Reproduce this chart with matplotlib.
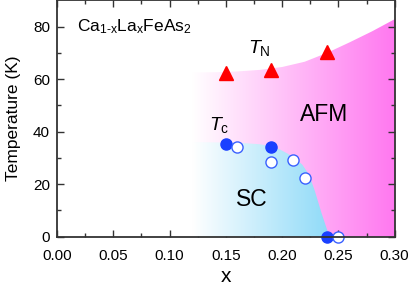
import numpy as np
import matplotlib.pyplot as plt
from matplotlib.patches import Polygon
from matplotlib.colors import LinearSegmentedColormap

plt.rcParams['font.family'] = ['Liberation Sans', 'DejaVu Sans']
plt.rcParams['mathtext.fontset'] = 'custom'
plt.rcParams['mathtext.rm'] = 'Liberation Sans'
plt.rcParams['mathtext.it'] = 'Liberation Sans:italic'

# T_N points (red triangles)
x_tn = [0.15, 0.19, 0.24]
t_tn = [62.3, 63.3, 70.5]
# T_c filled circles
x_tc_fill = [0.15, 0.19, 0.24]
t_tc_fill = [35.2, 34.2, 0.0]
# T_c open circles
x_tc_open = [0.16, 0.19, 0.21, 0.22, 0.25]
t_tc_open = [34.0, 28.3, 29.2, 22.3, 0.0]

# phase boundaries (shading)
x_afm_edge = [0.12, 0.14, 0.16, 0.18, 0.20, 0.22, 0.24, 0.26, 0.28, 0.30]
t_afm_edge = [62.5, 62.6, 62.9, 63.5, 64.6, 66.6, 70.0, 74.0, 78.2, 82.8]
x_sc_edge = [0.12, 0.16, 0.18, 0.19, 0.198, 0.205, 0.212, 0.218, 0.224, 0.229, 0.235, 0.242]
t_sc_edge = [36.0, 35.8, 35.2, 34.4, 33.2, 31.6, 29.6, 27.4, 23.5, 17.5, 9.0, 0.0]

fig = plt.figure(figsize=(4.09, 2.86), dpi=100)
ax = fig.add_axes([0.1394, 0.1724, 0.8256, 0.8266])
ax.set_xlim(0, 0.30)
ax.set_ylim(0, 90)

# AFM gradient
afm_cmap = LinearSegmentedColormap.from_list('afm', ['#ffffff', '#ff78f0'])
grad = np.linspace(0, 1, 256).reshape(1, -1)
im = ax.imshow(grad, cmap=afm_cmap, extent=[0.12, 0.30, 0, 90], aspect='auto', zorder=1)
afm_poly = Polygon(list(zip(x_afm_edge, t_afm_edge)) + [(0.30, 0), (0.12, 0)],
                   closed=True, transform=ax.transData, facecolor='none', edgecolor='none')
ax.add_patch(afm_poly)
im.set_clip_path(afm_poly)

# SC gradient
sc_cmap = LinearSegmentedColormap.from_list('sc', ['#ffffff', '#8edaf8'])
im2 = ax.imshow(grad, cmap=sc_cmap, extent=[0.12, 0.243, 0, 90], aspect='auto', zorder=2)
sc_poly = Polygon(list(zip(x_sc_edge, t_sc_edge)) + [(0.12, 0)],
                  closed=True, transform=ax.transData, facecolor='none', edgecolor='none')
ax.add_patch(sc_poly)
im2.set_clip_path(sc_poly)

ax.plot(x_tn, t_tn, '^', color='#ff0000', markersize=9.5, zorder=5, clip_on=False)
ax.plot(x_tc_fill, t_tc_fill, 'o', color='#1a40ff', markersize=8, zorder=5, clip_on=False)
ax.plot(x_tc_open, t_tc_open, 'o', markerfacecolor='white', markeredgecolor='#3a60ff',
        markeredgewidth=1, markersize=8, zorder=6, clip_on=False)

ax.text(0.018, 80, r'Ca$_{\mathregular{1\text{-}x}}$La$_{\mathregular{x}}$FeAs$_{\mathregular{2}}$',
        fontsize=12.5, va='center', ha='left')
ax.text(0.18, 72, r'$\mathit{T}_{\mathregular{N}}$', fontsize=14, ha='center', va='center')
ax.text(0.144, 42.5, r'$\mathit{T}_{\mathregular{c}}$', fontsize=14, ha='center', va='center')
ax.text(0.237, 46.5, 'AFM', fontsize=16.5, ha='center', va='center')
ax.text(0.173, 14, 'SC', fontsize=16.5, ha='center', va='center')

ax.set_xticks([0.00, 0.05, 0.10, 0.15, 0.20, 0.25, 0.30])
ax.set_xticks(np.arange(0.025, 0.3, 0.05), minor=True)
ax.set_yticks([0, 20, 40, 60, 80])
ax.set_yticks([10, 30, 50, 70], minor=True)
ax.tick_params(which='both', direction='in', top=True, right=True, labelsize=11, color='#333333')
ax.tick_params(axis='x', which='major', pad=9)
ax.tick_params(axis='y', which='major', pad=5)
ax.tick_params(which='major', length=5, width=1)
ax.tick_params(which='minor', length=3, width=1)
for s in ax.spines.values():
    s.set_color('#333333')
    s.set_linewidth(1.3)
    s.set_zorder(7)
ax.set_xlabel('x', fontsize=15, labelpad=2.5)
ax.set_ylabel('Temperature (K)', fontsize=12.5, labelpad=9)

fig.savefig('out.png', dpi=100)
